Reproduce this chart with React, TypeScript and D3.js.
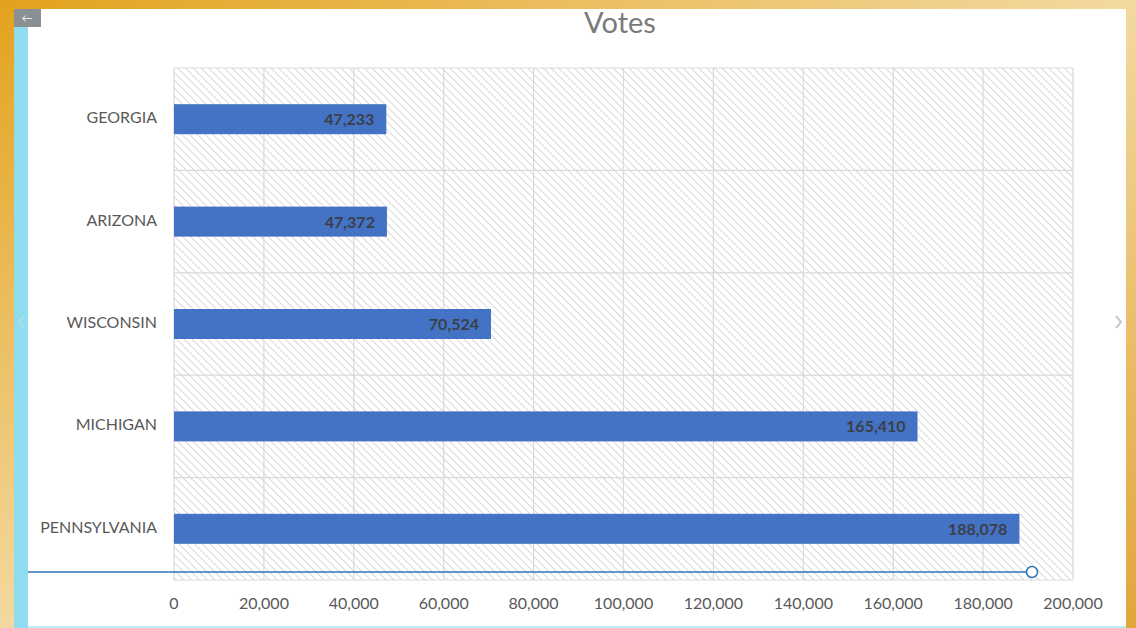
import React from "react";
import * as d3 from "d3";

const states = ["GEORGIA", "ARIZONA", "WISCONSIN", "MICHIGAN", "PENNSYLVANIA"];
const votes = [47233, 47372, 70524, 165410, 188078];
const xTicks = [0, 20000, 40000, 60000, 80000, 100000, 120000, 140000, 160000, 180000, 200000];
const title = "Votes";

export default function App() {
  const W = 1136, H = 628;
  const left = 174, right = 1073, top = 68, bottom = 580;
  const x = d3.scaleLinear().domain([0, 200000]).range([left, right]);
  const y = d3.scaleBand().domain(states).range([top, bottom]);
  const barH = 30;
  const fmt = d3.format(",");
  const font = "Lato, 'Open Sans', sans-serif";
  const bandEdges = states.map((s) => y(s)!).concat([bottom]);

  return (
    <svg width={W} height={H} style={{ position: "absolute", left: 0, top: 0 }}>
      <defs>
        <linearGradient id="bg" x1="0" y1="0" x2="1" y2="1">
          <stop offset="0" stopColor="#e3a21c" />
          <stop offset="0.5" stopColor="#f3d9a0" />
          <stop offset="1" stopColor="#e2a53a" />
        </linearGradient>
        <pattern id="hatch" patternUnits="userSpaceOnUse" width="5.5" height="5.5" patternTransform="rotate(-45)">
          <rect width="5.5" height="5.5" fill="#ffffff" />
          <line x1="0" y1="0" x2="0" y2="5.5" stroke="#c8c8c8" strokeWidth="1.4" />
        </pattern>
      </defs>
      <rect width={W} height={H} fill="url(#bg)" />
      <rect x={28} y={9} width={1098} height={H - 9} fill="#ffffff" />
      <rect x={14} y={27} width={14} height={H - 27} fill="#8fdcef" />
      <rect x={14} y={9} width={27} height={18} fill="#8a8f94" />
      <text x={27} y={22} textAnchor="middle" fontSize={11} fill="#e8e8e8" fontFamily={font}>←</text>
      <path d="M24,316 L19,322 L24,328" fill="none" stroke="#b8dde8" strokeWidth={1.5} />
      <path d="M1116,316 L1121,322 L1116,328" fill="none" stroke="#c8c8c8" strokeWidth={2} />
      <rect x={28} y={H - 2} width={1098} height={2} fill="#bfe9f3" />

      <text x={620} y={33} textAnchor="middle" fontSize={29} fill="#7a7a7a" fontFamily={font}>{title}</text>

      <rect x={left} y={top} width={right - left} height={bottom - top} fill="url(#hatch)" />
      {xTicks.map((t) => (
        <line key={"g" + t} x1={x(t)} x2={x(t)} y1={top} y2={bottom} stroke="#d9d9d9" strokeWidth={1.2} />
      ))}
      {bandEdges.map((v, i) => (
        <line key={"h" + i} x1={left} x2={right} y1={v} y2={v} stroke="#d9d9d9" strokeWidth={1.2} />
      ))}

      {states.map((s, i) => {
        const cy = y(s)! + y.bandwidth() / 2;
        return (
          <g key={s}>
            <rect x={x(0)} y={cy - barH / 2} width={x(votes[i]) - x(0)} height={barH} fill="#4472c4" />
            <text x={x(votes[i]) - 12} y={cy + 6} textAnchor="end" fontSize={16} fontWeight="bold" fill="#3b3f48" fontFamily={font}>
              {fmt(votes[i])}
            </text>
            <text x={157} y={cy + 4} textAnchor="end" fontSize={16} fill="#595959" fontFamily={font}>{s}</text>
          </g>
        );
      })}

      {xTicks.map((t) => (
        <text key={"t" + t} x={x(t)} y={609} textAnchor="middle" fontSize={16} fill="#595959" fontFamily={font}>
          {fmt(t)}
        </text>
      ))}

      <line x1={28} x2={1026} y1={572} y2={572} stroke="#2e75b6" strokeWidth={1.5} />
      <circle cx={1032} cy={572} r={5.5} fill="#ffffff" stroke="#2e75b6" strokeWidth={1.5} />
    </svg>
  );
}
